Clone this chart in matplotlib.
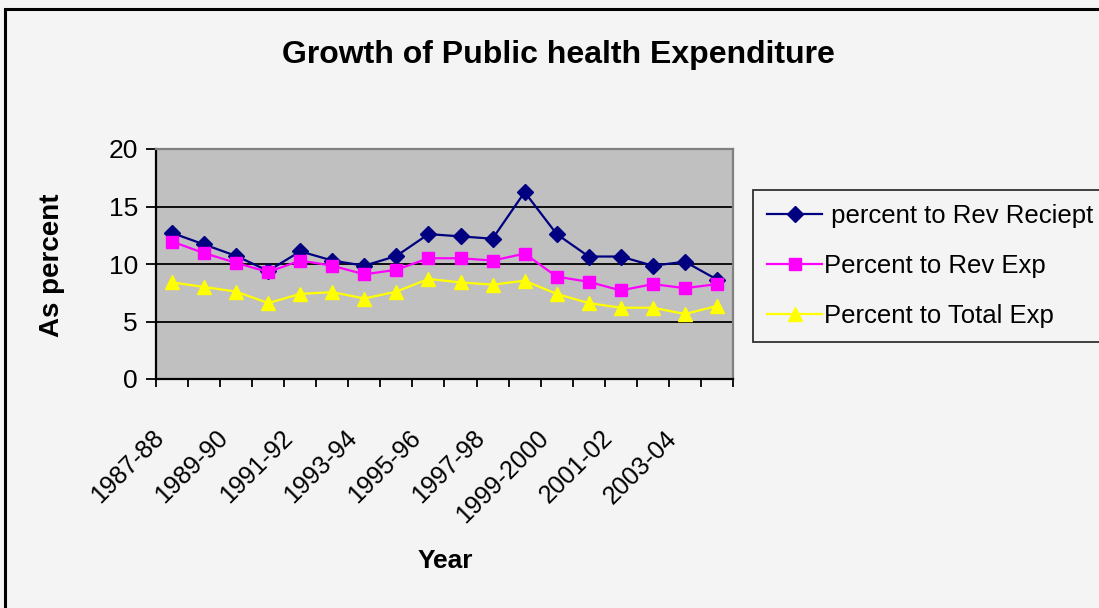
import matplotlib.pyplot as plt
from matplotlib.patches import Rectangle
from matplotlib.transforms import ScaledTranslation

plt.rcParams['font.family'] = ['Liberation Sans', 'DejaVu Sans']

years = ['1987-88', '1988-89', '1989-90', '1990-91', '1991-92', '1992-93',
         '1993-94', '1994-95', '1995-96', '1996-97', '1997-98', '1998-99',
         '1999-2000', '2000-01', '2001-02', '2002-03', '2003-04', '2004-05']
rev_receipt = [12.7, 11.7, 10.7, 9.4, 11.1, 10.3, 9.85, 10.7, 12.6,
               12.4, 12.2, 16.25, 12.6, 10.65, 10.65, 9.85, 10.2, 8.65]
rev_exp = [11.95, 10.95, 10.1, 9.3, 10.3, 9.85, 9.1, 9.5, 10.5,
           10.5, 10.3, 10.9, 8.9, 8.45, 7.7, 8.25, 7.9, 8.25]
total_exp = [8.4, 8.0, 7.6, 6.6, 7.4, 7.55, 7.0, 7.6, 8.7,
             8.4, 8.2, 8.55, 7.4, 6.6, 6.2, 6.2, 5.65, 6.35]
yticks = [0, 5, 10, 15, 20]

fig = plt.figure(figsize=(10.99, 6.08), dpi=100, facecolor='#f4f4f4')
ax = fig.add_axes([156 / 1099, 1 - 379 / 608, 577 / 1099, 230 / 608])
ax.set_facecolor('#c0c0c0')

x = range(len(years))
ax.plot(x, rev_receipt, color='#000080', marker='D', ms=8, lw=1.6,
        label=' percent to Rev Reciept')
ax.plot(x, rev_exp, color='#ff00ff', marker='s', ms=8, lw=1.6,
        label='Percent to Rev Exp')
ax.plot(x, total_exp, color='#ffff00', marker='^', ms=10, lw=1.6,
        label='Percent to Total Exp')

ax.set_yticks(yticks)
ax.tick_params(axis='y', labelsize=19, length=7, width=1.3, direction='out', pad=6)
for v in yticks[1:-1]:
    ax.axhline(v, color='black', lw=1.3, zorder=1)

# ticks between categories, no tick labels
ax.set_xticks([i - 0.5 for i in range(len(years) + 1)])
ax.set_xticklabels([])
ax.tick_params(axis='x', length=6, width=1.3, direction='out')
ax.set_xlim(-0.5, len(years) - 0.5)
ax.set_ylim(0, 20)

# rotated category labels on every other year, ending a little left of centre
offset = ScaledTranslation(-0.20, -0.47, fig.dpi_scale_trans)
for i in list(x)[::2]:
    ax.text(i, 0, years[i], transform=ax.get_xaxis_transform() + offset,
            rotation=45, ha='right', va='top', rotation_mode='anchor',
            fontsize=18)

ax.spines['left'].set_linewidth(1.6)
ax.spines['bottom'].set_linewidth(1.6)
ax.spines['top'].set_color('#808080')
ax.spines['right'].set_color('#808080')
ax.spines['top'].set_linewidth(1.6)
ax.spines['right'].set_linewidth(1.6)

fig.text(558 / 1099, 1 - 55 / 608, 'Growth of Public health Expenditure',
         fontsize=23, fontweight='bold', ha='center', va='center')
fig.text(52 / 1099, 1 - 265 / 608, 'As percent', fontsize=20,
         fontweight='bold', rotation=90, ha='center', va='center')
fig.text(445 / 1099, 1 - 561 / 608, 'Year', fontsize=19,
         fontweight='bold', ha='center', va='center')

leg = fig.legend(loc='upper left', bbox_to_anchor=(753 / 1099, 1 - 190 / 608),
                 fontsize=18.5, frameon=True, fancybox=False, edgecolor='black',
                 facecolor='#f4f4f4', handlelength=2.15, handletextpad=0.05,
                 labelspacing=1.0, borderpad=0.55, borderaxespad=0)
leg.get_frame().set_linewidth(1.3)

fig.patches.append(Rectangle((5 / 1099, -0.1), 1.2, 1.1 - 9 / 608,
                             transform=fig.transFigure, fill=False,
                             edgecolor='black', lw=2.2))

fig.savefig('out.png', dpi=100, facecolor=fig.get_facecolor())
